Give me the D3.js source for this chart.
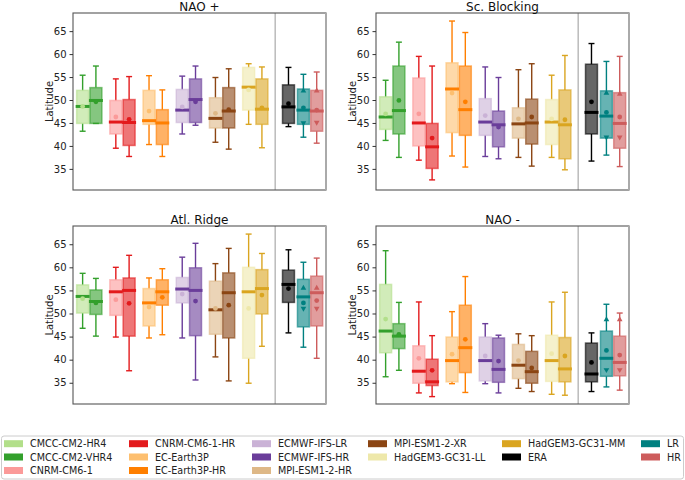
<!DOCTYPE html>
<html><head><meta charset="utf-8">
<script src="https://cdn.jsdelivr.net/npm/d3@7"></script>
<style>body{margin:0;background:#fff;}svg{font-family:"DejaVu Sans",sans-serif;}</style>
</head><body><svg id="c" width="685" height="480"></svg>
<script>
// categories (box order per panel)
const boxes = ["CMCC-CM2-HR4","CMCC-CM2-VHR4","CNRM-CM6-1","CNRM-CM6-1-HR","EC-Earth3P","EC-Earth3P-HR",
  "ECMWF-IFS-LR","ECMWF-IFS-HR","MPI-ESM1-2-HR","MPI-ESM1-2-XR","HadGEM3-GC31-LL","HadGEM3-GC31-MM","ERA","LR","HR"];
const xPos = [0.8,1.2,1.8,2.2,2.8,3.2,3.8,4.2,4.8,5.2,5.8,6.2,7.0,7.45,7.85];
const fillColors = ["#b2df8a","#33a02c","#fb9a99","#e31a1c","#fdbf6f","#ff7f00","#cab2d6","#6a3d9a","#deb887","#8b4513","#eee8aa","#daa520","#000000","#008080","#cd5c5c"];
const lineColors = ["#33a02c","#33a02c","#e31a1c","#e31a1c","#ff7f00","#ff7f00","#6a3d9a","#6a3d9a","#8b4513","#8b4513","#daa520","#daa520","#000000","#008080","#cd5c5c"];
const panelTitles = ["NAO +","Sc. Blocking","Atl. Ridge","NAO -"];
const yTicks = [35,40,45,50,55,60,65];
const separatorX = 6.6;

// [whisker low, q1, median, q3, whisker high, mean]
const naoPlus = [
  [43.2,44.9,48.6,52.1,55.4,48.6],[44.9,44.9,49.9,52.7,57.4,49.6],
  [39.5,42.6,45.2,49.9,54.6,46.3],[37.7,40.1,45.1,50.1,55.1,45.8],
  [40.3,44.7,45.5,52.1,55.3,47.6],[37.7,40.3,45.0,47.9,52.2,null],
  [42.6,45.1,47.8,52.3,55.2,48.5],[44.5,45.1,50.1,54.6,57.4,49.6],
  [40.8,43.9,46.0,50.5,54.9,47.1],[39.3,43.9,47.6,52.7,56.8,47.9],
  [44.7,47.8,52.8,57.1,57.9,52.2],[39.6,44.7,48.0,54.6,57.2,48.3],
  [44.2,44.9,48.5,53.3,57.1,49.2],[41.9,44.7,47.8,52.4,55.6,48.3],[40.6,43.2,47.6,52.1,56.1,47.8]];
const scBlocking = [
  [41.2,43.6,46.3,50.7,54.3,47.0],[37.5,42.6,47.7,57.4,62.6,49.9],
  [36.9,40.0,45.0,54.8,59.5,47.0],[32.6,35.1,39.8,44.9,57.4,41.7],
  [37.8,42.9,52.4,58.1,67.2,51.5],[35.4,42.3,47.9,57.4,64.7,49.6],
  [37.7,42.3,45.2,50.3,57.2,46.6],[37.2,39.8,44.6,47.6,54.9,44.1],
  [37.5,41.7,44.8,48.3,56.6,45.9],[35.6,40.4,45.0,50.2,57.9,46.3],
  [37.5,40.3,45.2,50.1,55.4,45.9],[34.8,37.2,44.6,52.2,59.7,45.7],
  [36.7,42.6,47.3,57.8,62.3,49.6],[38.0,41.7,46.5,52.0,58.4,47.3],[35.5,39.5,44.9,51.6,59.5,46.3]];
const atlRidge = [
  [46.8,50.1,53.7,56.2,58.7,53.2],[45.1,49.8,52.6,55.1,57.6,52.3],
  [44.9,49.6,54.7,57.3,60.0,53.0],[37.6,45.1,55.0,57.7,62.6,52.2],
  [44.7,47.3,52.3,55.4,57.7,51.4],[45.4,51.8,54.7,57.3,59.7,53.5],
  [44.7,52.3,55.3,57.8,62.2,54.2],[35.6,45.2,55.0,59.9,65.2,52.7],
  [40.6,45.5,50.8,57.0,60.8,51.1],[35.4,44.7,54.5,58.8,64.1,51.8],
  [34.9,40.3,54.7,60.0,67.2,51.1],[42.9,49.9,55.4,59.5,63.0,54.0],
  [45.8,52.4,56.3,59.4,63.8,55.4],[42.7,47.1,53.6,57.4,61.1,52.3],[40.3,47.3,54.5,58.1,62.0,52.8]];
const naoMinus = [
  [36.3,41.5,46.2,56.3,63.6,48.8],[37.7,42.4,45.1,47.8,52.4,45.5],
  [32.8,34.9,37.5,43.0,52.5,40.3],[32.0,34.4,35.2,40.1,45.2,37.7],
  [34.8,35.2,39.8,44.9,50.4,41.2],[32.9,37.2,42.6,51.8,58.0,44.4],
  [34.8,35.4,39.8,44.9,47.8,40.8],[32.8,35.1,37.9,44.7,45.3,39.7],
  [33.8,35.9,38.8,43.3,45.6,39.8],[33.1,34.9,37.4,41.8,45.2,38.2],
  [32.5,35.3,39.8,45.3,52.5,41.3],[32.3,35.2,38.0,44.8,54.6,40.8],
  [33.1,35.2,36.9,43.6,45.8,39.4],[34.1,36.4,40.3,46.2,52.0,42.0],[33.4,36.5,39.4,45.1,50.1,41.0]];
const panelData = [naoPlus, scBlocking, atlRidge, naoMinus];
// extra markers for LR / HR groups: [up-triangle, circle, down-triangle]
const lrMarkers = [[52.0,48.3,45.0],[51.5,47.3,41.9],[55.5,52.3,51.1],[48.7,42.0,37.8]];
const hrMarkers = [[52.0,47.8,45.1],[51.3,46.3,41.9],[55.5,52.8,51.1],[48.7,41.0,37.8]];

// legend
const legendLabels = ["CMCC-CM2-HR4","CMCC-CM2-VHR4","CNRM-CM6-1","CNRM-CM6-1-HR","EC-Earth3P","EC-Earth3P-HR",
  "ECMWF-IFS-LR","ECMWF-IFS-HR","MPI-ESM1-2-HR","MPI-ESM1-2-XR","HadGEM3-GC31-LL","HadGEM3-GC31-MM","ERA","LR","HR"];
const legendColors = fillColors;

const svg = d3.select("#c");
const panels = [
  {x0:73,x1:326,y0:13,y1:190},{x0:376,x1:629,y0:13,y1:190},
  {x0:73,x1:326,y0:226,y1:404},{x0:376,x1:629,y0:226,y1:404}];

panels.forEach((p,pi)=>{
  const x = d3.scaleLinear().domain([0.51,8.13]).range([p.x0,p.x1]);
  const y = d3.scaleLinear().domain([30.4,68.95]).range([p.y1,p.y0]);
  const g = svg.append("g");
  const bw = x(0.36)-x(0);
  // separator
  g.append("line").attr("x1",x(separatorX)).attr("x2",x(separatorX)).attr("y1",p.y0).attr("y2",p.y1)
    .attr("stroke","#bbb").attr("stroke-width",1.5);
  const data = panelData[pi];
  data.forEach((d,i)=>{
    const cx = x(xPos[i]);
    const lc = lineColors[i], fc = fillColors[i];
    // whiskers
    g.append("line").attr("x1",cx).attr("x2",cx).attr("y1",y(d[0])).attr("y2",y(d[1])).attr("stroke",lc).attr("stroke-width",1.4);
    g.append("line").attr("x1",cx).attr("x2",cx).attr("y1",y(d[3])).attr("y2",y(d[4])).attr("stroke",lc).attr("stroke-width",1.4);
    [d[0],d[4]].forEach(v=>g.append("line").attr("x1",cx-bw/4).attr("x2",cx+bw/4).attr("y1",y(v)).attr("y2",y(v)).attr("stroke",lc).attr("stroke-width",1.4));
    // box
    g.append("rect").attr("x",cx-bw/2).attr("width",bw).attr("y",y(d[3])).attr("height",Math.max(0.5,y(d[1])-y(d[3])))
      .attr("fill",fc).attr("fill-opacity",0.6).attr("stroke",fc).attr("stroke-opacity",0.6).attr("stroke-width",1.5);
    // median
    g.append("line").attr("x1",cx-bw/2-1).attr("x2",cx+bw/2+1).attr("y1",y(d[2])).attr("y2",y(d[2])).attr("stroke",lc).attr("stroke-width",3);
    // mean
    if(d[5]!==null){
      const mc = (i%2===0 && i<12) ? fc : lc;
      g.append("circle").attr("cx",cx).attr("cy",y(d[5])).attr("r",2.4).attr("fill",mc);
    }
  });
  // LR/HR markers
  [[13,lrMarkers[pi]],[14,hrMarkers[pi]]].forEach(([i,m])=>{
    const cx = x(xPos[i]); const c = lineColors[i];
    g.append("path").attr("d",d3.symbol(d3.symbolTriangle,14)()).attr("transform",`translate(${cx},${y(m[0])})`).attr("fill",c);
    g.append("path").attr("d",d3.symbol(d3.symbolTriangle,14)()).attr("transform",`translate(${cx},${y(m[2])}) rotate(180)`).attr("fill",c);
  });
  // frame
  g.append("rect").attr("x",p.x0).attr("y",p.y0).attr("width",p.x1-p.x0).attr("height",p.y1-p.y0)
    .attr("fill","none").attr("stroke","#555").attr("stroke-width",1.1);
  g.append("line").attr("x1",p.x1).attr("x2",p.x1).attr("y1",p.y0).attr("y2",p.y1).attr("stroke","#aaa").attr("stroke-width",2);
  // axis
  const ax = g.append("g").attr("transform",`translate(${p.x0},0)`)
    .call(d3.axisLeft(y).tickValues(yTicks).tickSize(3.5).tickPadding(3));
  ax.select(".domain").remove();
  ax.selectAll("text").attr("font-size",10).attr("fill","#222").attr("font-family","DejaVu Sans");
  ax.selectAll("line").attr("stroke","#333");
  g.append("text").attr("transform",`translate(${p.x0-20},${(p.y0+p.y1)/2}) rotate(-90)`)
    .attr("text-anchor","middle").attr("font-size",10).attr("fill","#222").text("Latitude");
  g.append("text").attr("x",(p.x0+p.x1)/2).attr("y",p.y0-2.3).attr("text-anchor","middle")
    .attr("font-size",12).attr("fill","#111").text(panelTitles[pi]);
});

// legend
const lg = svg.append("g");
lg.append("rect").attr("x",1.5).attr("y",436).attr("width",682).attr("height",43).attr("rx",2.5)
  .attr("fill","#fff").attr("stroke","#ccc").attr("stroke-width",1);
const colX = [4,129,252,368,502,641];
const rowY = [443.7,457,470.5];
const perCol = [3,3,3,2,2,2];
let k=0;
perCol.forEach((n,ci)=>{
  for(let r=0;r<n;r++){
    const idx = k++;
    lg.append("rect").attr("x",colX[ci]).attr("y",rowY[r]-3.5).attr("width",19).attr("height",7).attr("fill",legendColors[idx]);
    lg.append("text").attr("x",colX[ci]+26).attr("y",rowY[r]+3.5).attr("font-size",9.6).attr("fill","#222").text(legendLabels[idx]);
  }
});
</script></body></html>
